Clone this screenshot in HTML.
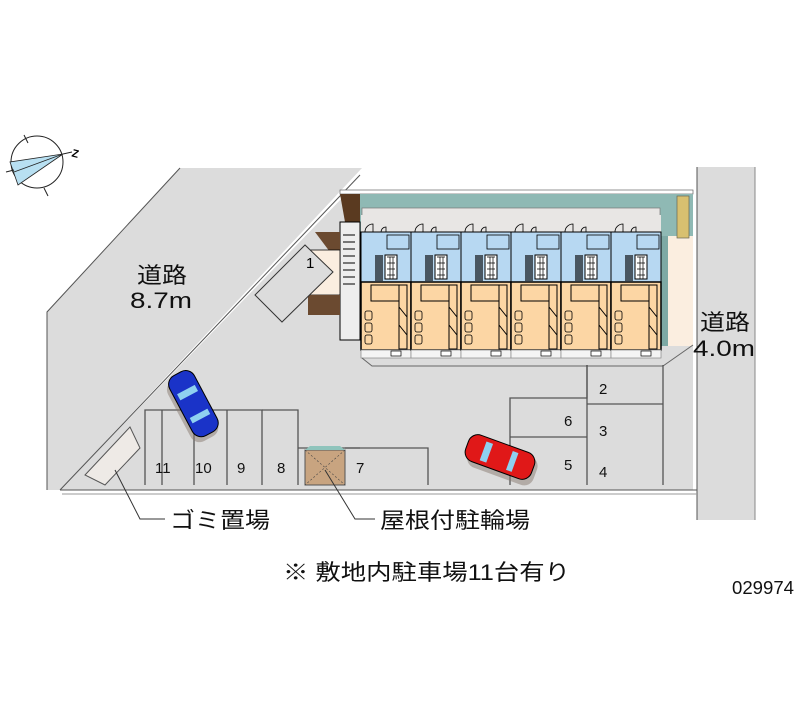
<!DOCTYPE html>
<html><head><meta charset="utf-8"><style>
html,body{margin:0;padding:0;background:#fff;}
svg{display:block;}
text{font-family:"Liberation Sans","Noto Sans CJK JP",sans-serif;}
</style></head><body>
<svg width="800" height="727" viewBox="0 0 800 727" xmlns="http://www.w3.org/2000/svg">
<defs>
<g id="unit">
 <rect x="0" y="0" width="50" height="17" fill="#e8e6e4"/>
 <rect x="0" y="17" width="50" height="50" fill="#b7d8f2" stroke="#000" stroke-width="1"/>
 <rect x="0" y="67" width="50" height="68" fill="#fcd6a4" stroke="#000" stroke-width="1.5"/>
 <path d="M4 17 a8 8 0 0 1 8 -8 v8 M20 17 a5 5 0 0 1 5 -5 v5" fill="none" stroke="#000" stroke-width="0.8"/>
 <rect x="26" y="20" width="22" height="14" fill="none" stroke="#000" stroke-width="0.8"/>
 <rect x="24" y="40" width="12" height="24" fill="#fff" stroke="#000" stroke-width="1"/>
 <path d="M26 42h8M26 48h8M26 54h8M26 60h8M29 42v22M32 42v22" stroke="#000" stroke-width="0.7"/>
 <rect x="14" y="40" width="8" height="26" fill="#000" opacity="0.6"/>
 <rect x="10" y="70" width="28" height="16" fill="none" stroke="#000" stroke-width="1"/>
 <rect x="38" y="70" width="8" height="64" fill="none" stroke="#000" stroke-width="1"/>
 <path d="M38 92l8 10M38 110l8 10" stroke="#000" stroke-width="1"/>
 <rect x="4" y="96" width="7" height="9" rx="2" fill="none" stroke="#000" stroke-width="0.8"/>
 <rect x="4" y="108" width="7" height="9" rx="2" fill="none" stroke="#000" stroke-width="0.8"/>
 <rect x="4" y="120" width="7" height="9" rx="2" fill="none" stroke="#000" stroke-width="0.8"/>
 <rect x="0" y="135" width="50" height="8" fill="#f4f4f4" stroke="#888" stroke-width="0.7"/>
 <rect x="30" y="136" width="10" height="5" fill="#fff" stroke="#000" stroke-width="0.7"/>
</g>
</defs>
<!-- compass -->
<circle cx="37" cy="162" r="26" fill="none" stroke="#222" stroke-width="1"/>
<polygon points="63,154 10,162 18,185" fill="#b8e0f2" stroke="#222" stroke-width="0.8"/>
<line x1="63" y1="154" x2="14" y2="172" stroke="#222" stroke-width="0.8"/>
<line x1="63" y1="154" x2="72" y2="152" stroke="#222"/>
<path d="M24 135l4 8M44 188l4 8M6 172l8-2" stroke="#222"/>
<text x="72" y="158" font-size="11" font-weight="bold" transform="rotate(15 78 154)">Z</text>
<!-- roads & site -->
<polygon points="180,168 362,168 60,490 47,490 47,312" fill="#dcdcdc"/>
<polyline points="180,168 47,312 47,490" fill="none" stroke="#555" stroke-width="1"/>
<polygon points="345,195 693,195 693,490 60,490" fill="#dcdcdc"/>
<line x1="360" y1="175" x2="60" y2="490" stroke="#555" stroke-width="1"/>
<rect x="697" y="167" width="58" height="353" fill="#dcdcdc"/>
<line x1="697" y1="167" x2="697" y2="520" stroke="#555"/>
<line x1="755" y1="167" x2="755" y2="520" stroke="#888"/>
<line x1="60" y1="490" x2="697" y2="490" stroke="#555"/>
<line x1="62" y1="494" x2="697" y2="494" stroke="#999"/>
<!-- building -->
<rect x="340" y="190" width="353" height="4" fill="#fff" stroke="#666" stroke-width="0.7"/>
<rect x="360" y="194" width="333" height="42" fill="#8fb9b4"/>
<rect x="362" y="208" width="298" height="28" fill="#e8e6e4" stroke="#777" stroke-width="0.7"/>
<rect x="660" y="236" width="33" height="110" fill="#fbeee0"/>
<rect x="660" y="236" width="8" height="110" fill="#7da9a4"/>
<rect x="677" y="196" width="12" height="42" fill="#d8c070" stroke="#665" stroke-width="0.7"/>
<polygon points="340,194 360,194 360,222 345,222" fill="#5a3a20"/>
<rect x="340" y="222" width="20" height="118" fill="#eee" stroke="#000" stroke-width="1"/>
<path d="M343 235h12M343 242h12M343 249h12M343 256h12M343 263h12M343 270h12M343 277h12M343 284h12" stroke="#000" stroke-width="1"/>
<polygon points="315,232 340,232 340,252 330,252" fill="#6b4a30"/>
<polygon points="308,250 340,250 340,295 308,295 330,272" fill="#fbeee0" stroke="#000" stroke-width="0.8"/>
<rect x="308" y="295" width="32" height="20" fill="#6b4a30"/>
<polygon points="305,245 255,295 282,322 333,272" fill="#dcdcdc" stroke="#333" stroke-width="1"/>
<text x="306" y="268" font-size="15">1</text>
<use href="#unit" x="361" y="215"/>
<use href="#unit" x="411" y="215"/>
<use href="#unit" x="461" y="215"/>
<use href="#unit" x="511" y="215"/>
<use href="#unit" x="561" y="215"/>
<use href="#unit" x="611" y="215"/>
<polyline points="362,358 372,366 663,366 693,345" fill="none" stroke="#666"/>
<!-- parking -->
<g fill="none" stroke="#555" stroke-width="1.3">
<polyline points="145,485 145,410 262,410 262,485"/>
<polyline points="162,485 162,410"/>
<polyline points="194,485 194,410"/>
<polyline points="227,485 227,410"/>
<polyline points="262,410 298,410 298,485"/>
<polyline points="298,448 360,448"/>
<polyline points="345,448 428,448 428,485"/>
<polyline points="510,485 510,398 587,398 587,365"/>
<polyline points="510,437 587,437"/>
<polyline points="587,365 587,485"/>
<polyline points="587,404 663,404 M587,444 663,444"/>
<polyline points="663,365 663,485"/>
</g>
<rect x="305" y="450" width="40" height="35" fill="#c8a480" stroke="#555"/>
<path d="M305 450l40 35M345 450l-40 35" stroke="#444" stroke-width="0.6" stroke-dasharray="2,2"/>
<polygon points="305,450 345,450 340,446 310,446" fill="#8fc4bc"/>
<polygon points="130,427 85,475 105,485 140,448" fill="#eeeae6" stroke="#555"/>
<g font-size="15" fill="#111">
<text x="155" y="473">11</text><text x="195" y="473">10</text><text x="237" y="473">9</text><text x="277" y="473">8</text><text x="356" y="473">7</text>
<text x="599" y="394">2</text><text x="599" y="436">3</text><text x="599" y="477">4</text>
<text x="564" y="426">6</text><text x="564" y="470">5</text>
</g>
<!-- cars -->
<g transform="rotate(62 193 405)">
<rect x="162" y="392" width="68" height="30" rx="10" fill="#887a70" opacity="0.5"/>
<rect x="158" y="390" width="68" height="28" rx="10" fill="#1a33c8" stroke="#000"/>
<rect x="176" y="394" width="7" height="20" fill="#8fd0f0"/><rect x="203" y="394" width="6" height="20" fill="#8fd0f0"/>
</g>
<g transform="rotate(20 500 457)">
<rect x="469" y="446" width="70" height="30" rx="10" fill="#887a70" opacity="0.5"/>
<rect x="465" y="443" width="70" height="28" rx="10" fill="#e01818" stroke="#000"/>
<rect x="482" y="447" width="7" height="20" fill="#8fd0f0"/><rect x="510" y="447" width="6" height="20" fill="#8fd0f0"/>
</g>
<!-- labels -->
<g fill="#111">
<text x="137" y="283" font-size="22" textLength="50" lengthAdjust="spacingAndGlyphs">道路</text>
<text x="130" y="308" font-size="22" textLength="62" lengthAdjust="spacingAndGlyphs">8.7m</text>
<text x="700" y="330" font-size="22" textLength="50" lengthAdjust="spacingAndGlyphs">道路</text>
<text x="693" y="356" font-size="22" textLength="62" lengthAdjust="spacingAndGlyphs">4.0m</text>
</g>
<polyline points="115,470 140,519 165,519" fill="none" stroke="#333"/>
<polyline points="325,470 355,519 375,519" fill="none" stroke="#333"/>
<text x="170" y="528" font-size="22" fill="#111" textLength="100" lengthAdjust="spacingAndGlyphs">ゴミ置場</text>
<text x="380" y="528" font-size="22" fill="#111" textLength="150" lengthAdjust="spacingAndGlyphs">屋根付駐輪場</text>
<text x="283" y="580" font-size="22" fill="#111" textLength="287" lengthAdjust="spacingAndGlyphs">※ 敷地内駐車場11台有り</text>
<text x="732" y="594" font-size="18" fill="#111" textLength="62" lengthAdjust="spacingAndGlyphs">029974</text>
</svg>
</body></html>
